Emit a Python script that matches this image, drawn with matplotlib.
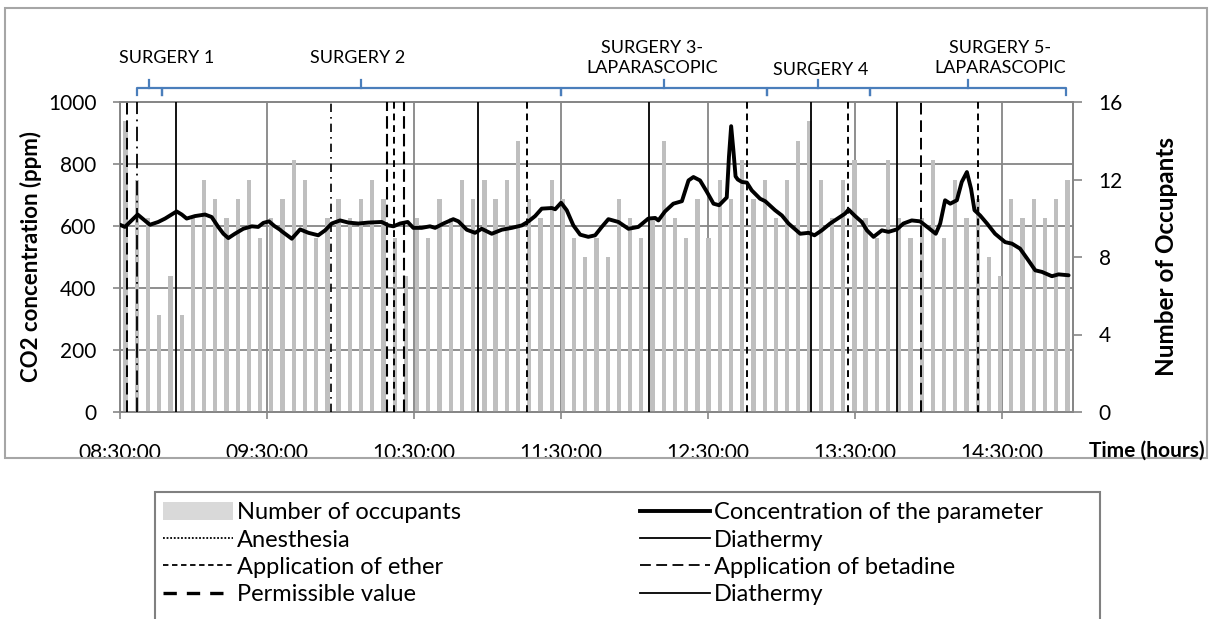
import matplotlib
matplotlib.use("Agg")
import matplotlib.pyplot as plt
import matplotlib.transforms as mtransforms
from matplotlib.lines import Line2D
from matplotlib.patches import Patch, Rectangle
import numpy as np

plt.rcParams['font.family'] = ['Lato', 'DejaVu Sans']

# ---------------- data ----------------
occupants = [15, 12, 10, 5, 7, 5, 10, 12, 11, 10,
             11, 12, 9, 10, 11, 13, 12, 9, 10, 11,
             10, 11, 12, 11, 9, 7, 10, 9, 11, 10,
             12, 11, 12, 11, 12, 14, 11, 10, 12, 11,
             9, 8, 9, 8, 11, 10, 9, 10, 14, 10,
             9, 11, 9, 12, 11, 13, 11, 12, 10, 12,
             14, 15, 12, 10, 12, 13, 10, 9, 13, 10,
             9, 10, 13, 9, 12, 10, 11, 8, 7, 11,
             10, 11, 10, 11, 12]

# minutes after 08:30 and CO2 ppm
co2_minutes = [0.0, 2.0, 4.1, 7.2, 9.5, 12.2, 15.6, 18.4, 21.1, 23.1, 25.2, 27.2,
               30.6, 34.7, 37.4, 40.1, 42.2, 44.2, 46.9, 50.3, 53.8, 56.4, 58.5,
               60.8, 63.0, 65.3, 66.0, 70.1, 73.5, 76.9, 80.9, 83.7, 86.4, 89.8,
               93.2, 97.3, 101.3, 106.8, 109.5, 111.6, 114.3, 117.4, 119.7, 123.1,
               126.5, 128.6, 132.0, 136.0, 138.1, 141.5, 144.9, 147.6, 151.7, 155.8,
               159.9, 164.0, 166.7, 169.4, 172.1, 176.2, 177.6, 180.0, 182.3, 185.0,
               187.8, 191.1, 193.9, 196.6, 199.3, 203.4, 207.5, 211.5, 215.6, 218.4,
               219.7, 222.4, 225.8, 229.3, 232.0, 234.0, 236.7, 239.5, 242.2, 244.5,
               247.6, 248.5, 249.4, 250.3, 251.2, 252.1, 253.8, 255.8, 257.8, 261.2,
               263.3, 267.3, 270.1, 272.8, 277.6, 281.0, 283.4, 286.4, 289.8, 293.2,
               295.9, 297.3, 300.0, 302.7, 304.8, 307.5, 310.9, 313.6, 317.0, 319.7,
               323.1, 326.5, 329.9, 332.9, 334.7, 336.7, 338.8, 341.5, 343.5, 345.6,
               347.3, 348.7, 351.0, 353.8, 357.1, 361.2, 364.0, 367.3, 370.7, 373.5,
               376.2, 380.3, 383.0, 387.1]
co2_ppm = [604, 597, 613, 637, 622, 604, 613, 624, 637, 647, 637, 624,
           632, 637, 629, 597, 575, 561, 575, 591, 599, 597, 610,
           615, 600, 588, 583, 559, 589, 578, 570, 586, 608, 618,
           611, 608, 611, 613, 602, 599, 608, 613, 594, 594,
           599, 594, 608, 622, 615, 588, 578, 591, 575, 588,
           594, 602, 615, 632, 656, 658, 654, 675, 651, 602,
           572, 565, 570, 597, 622, 613, 591, 597, 624, 626,
           618, 647, 672, 680, 747, 758, 747, 710, 672, 667,
           692, 823, 922, 845, 760, 750, 742, 740, 715, 688,
           680, 651, 634, 608, 575, 578, 570, 586, 608, 626,
           640, 653, 632, 613, 586, 565, 586, 581, 589, 608,
           618, 615, 594, 575, 608, 683, 672, 683, 742, 774,
           720, 651, 634, 608, 575, 548, 543, 527, 489, 457,
           452, 438, 444, 441]

x_tick_labels = ["08:30:00", "09:30:00", "10:30:00", "11:30:00",
                 "12:30:00", "13:30:00", "14:30:00"]

event_times = ["08:33", "08:37", "08:53", "09:56", "10:19", "10:22", "10:26",
               "10:56", "11:16", "12:06", "12:46", "13:12", "13:27", "13:47",
               "13:57", "14:20"]
event_kinds = ["betadine", "anesthesia", "diathermy", "anesthesia2", "permissible",
               "ether", "permissible", "diathermy", "ether", "diathermy", "ether",
               "diathermy", "ether", "diathermy", "betadine", "ether"]

surgery_names = ["SURGERY 1", "SURGERY 2", "SURGERY 3-\nLAPARASCOPIC",
                 "SURGERY 4", "SURGERY 5-\nLAPARASCOPIC"]
surgery_start = ["08:37", "08:47", "11:30", "12:54", "13:36"]
surgery_end = ["08:47", "11:30", "12:54", "13:36", "14:56"]
surgery_label_at = ["08:49", "10:07", "12:07", "13:16", "14:29"]

legend_labels = ["Number of occupants", "Anesthesia", "Application of ether",
                 "Permissible value", "Concentration of the parameter", "Diathermy",
                 "Application of betadine", "Diathermy"]


def to_min(s):
    h, m = s.split(":")
    return (int(h) - 8) * 60 + int(m) - 30


# ---------------- styles ----------------
GRID = "#868686"
BAR = "#bfbfbf"
BLUE = "#4a7ebb"
styles = {
    "betadine": dict(ls=(0, (6, 3)), lw=1.4),
    "permissible": dict(ls=(0, (6, 2.5)), lw=1.5),
    "ether": dict(ls=(0, (3.5, 2.5)), lw=1.4),
    "anesthesia": dict(ls=(0, (8, 3, 1, 3)), lw=1.3),
    "anesthesia2": dict(ls=(0, (5, 3, 1, 3)), lw=1.2),
    "diathermy": dict(ls="-", lw=1.3),
}

W, H = 1212, 619
fig = plt.figure(figsize=(W / 100, H / 100), dpi=100)
L, R, B, T = 120, 1073, 412, 102
rect = [L / W, 1 - B / H, (R - L) / W, (B - T) / H]

ax_occ = fig.add_axes(rect)
ax_co2 = ax_occ.twinx()
ax_co2.set_zorder(ax_occ.get_zorder() + 1)
ax_co2.patch.set_visible(False)

XMAX = 388.9
n = len(occupants)
step = XMAX / n
bar_x = (np.arange(n) + 0.5) * step
ax_occ.bar(bar_x, occupants, width=step * 0.38, color=BAR, zorder=3)
ax_occ.set_ylim(0, 16)
ax_occ.set_xlim(0, XMAX)
ax_occ.set_yticks([0, 4, 8, 12, 16])
ax_occ.set_yticks([3.2, 6.4, 9.6, 12.8], minor=True)
ax_occ.yaxis.tick_right()
ax_occ.yaxis.set_label_position("right")
ax_occ.grid(True, which="minor", axis="y", color=GRID, lw=1.3, zorder=1)
ax_occ.grid(True, which="major", axis="x", color=GRID, lw=1.3, zorder=1)
ax_occ.set_axisbelow(True)
ax_occ.tick_params(axis="y", which="minor", length=0)
ax_occ.tick_params(axis="y", which="major", direction="out", length=6.5,
                   color=GRID, width=1.2, labelsize=15, pad=12)
ax_occ.set_xticks(np.arange(0, 361, 60))
ax_occ.set_xticklabels(x_tick_labels)
ax_occ.tick_params(axis="x", direction="out", length=5, color=GRID, width=1.2,
                   labelsize=15, pad=17)
ax_occ.set_ylabel("Number of Occupants", fontsize=17.5, fontweight="bold",
                  labelpad=23)

ax_co2.plot(co2_minutes, co2_ppm, color="black", lw=2.8,
            solid_joinstyle="round", solid_capstyle="round", zorder=5)
for t, k in zip(event_times, event_kinds):
    st = styles[k]
    ax_co2.axvline(to_min(t), color="black", ls=st["ls"], lw=st["lw"], zorder=4)
ax_co2.set_ylim(0, 1000)
ax_co2.set_yticks(np.arange(0, 1001, 200))
ax_co2.yaxis.tick_left()
ax_co2.yaxis.set_label_position("left")
ax_co2.tick_params(axis="y", direction="out", length=5, color=GRID, width=1.2,
                   labelsize=15, pad=12)
ax_co2.set_ylabel("CO2 concentration (ppm)", fontsize=16, fontweight="bold",
                  labelpad=4)

for a in (ax_occ, ax_co2):
    for s in a.spines.values():
        s.set_color(GRID)
        s.set_linewidth(1.3)

# surgery brackets
trans = mtransforms.blended_transform_factory(ax_co2.transData, ax_co2.transAxes)
yb, yend, ytop = 1.045, 1.022, 1.071
for name, s0, s1, lab in zip(surgery_names, surgery_start, surgery_end,
                             surgery_label_at):
    a, b = to_min(s0), to_min(s1)
    c = (a + b) / 2
    ax_co2.plot([a, a, b, b], [yend, yb, yb, yend], color=BLUE, lw=1.6,
                transform=trans, clip_on=False, solid_joinstyle="round")
    ax_co2.plot([c, c], [yb, ytop], color=BLUE, lw=1.6, transform=trans,
                clip_on=False)
    ty = 1.103 if name == "SURGERY 4" else 1.142
    ax_co2.text(to_min(lab), ty, name, transform=trans, ha="center",
                va="center", fontsize=13, linespacing=1.35)

fig.text(1147 / W, 1 - 451 / H, "Time (hours)", fontsize=15,
         fontweight="bold", ha="center", va="center")

# outer frame
fig.add_artist(Rectangle((5 / W, 1 - 458 / H), (1207 - 5) / W, (458 - 8) / H,
                         transform=fig.transFigure, fill=False,
                         edgecolor="#a6a6a6", lw=1.5))

# legend
handles = [
    Patch(facecolor="#d9d9d9", edgecolor="none"),
    Line2D([], [], color="black", ls=(0, (1, 1)), lw=1.3),
    Line2D([], [], color="black", ls=(0, (3, 2)), lw=1.3),
    Line2D([], [], color="black", ls=(0, (4, 3)), lw=2.4),
    Line2D([], [], color="black", lw=2.8),
    Line2D([], [], color="black", lw=1.3),
    Line2D([], [], color="black", ls=(0, (6, 3)), lw=1.3),
    Line2D([], [], color="black", lw=1.3),
]
fig.legend(handles, legend_labels, ncol=2, loc="upper left",
           bbox_to_anchor=(163 / W, 1 - 502 / H), frameon=False,
           fontsize=17, handlelength=2.97, handletextpad=0.17,
           columnspacing=7.58, labelspacing=0.26, borderpad=0,
           borderaxespad=0, handleheight=0.8)
fig.add_artist(Rectangle((155 / W, -0.05), (1100 - 155) / W, 0.05 + 1 - 492 / H,
                         transform=fig.transFigure, fill=False,
                         edgecolor="#808080", lw=1.5))

fig.savefig("out.png", dpi=100)
